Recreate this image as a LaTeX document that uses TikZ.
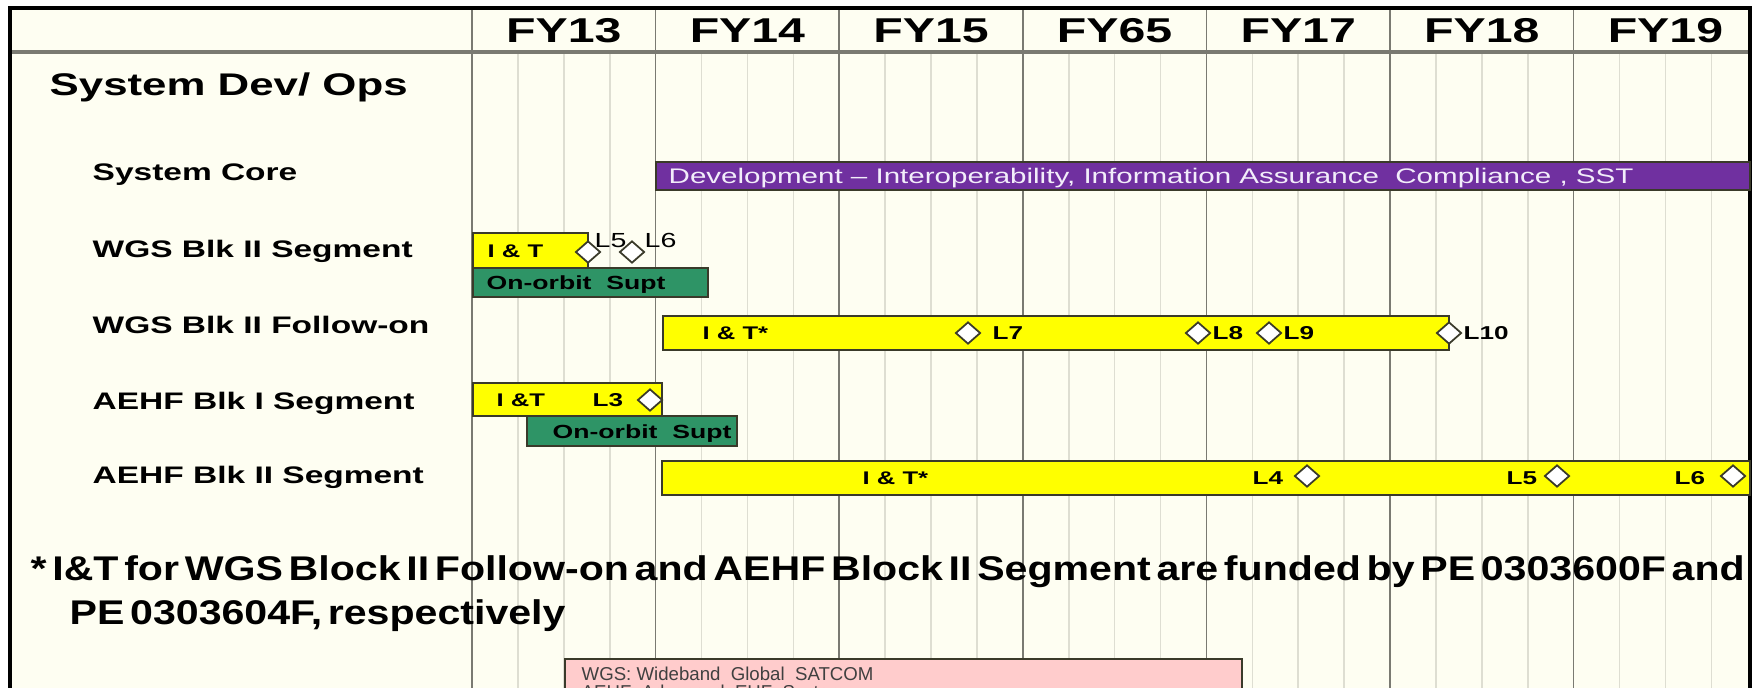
\documentclass[tikz,border=0pt]{standalone}
\usepackage{fontspec}
\setmainfont[FakeStretch=1.4]{Liberation Sans}
\newfontfamily\notefont[FakeStretch=1.2,WordSpace=0.5]{Liberation Sans}
\newfontfamily\legendfont{Liberation Sans}
\usepackage{xcolor}
\usetikzlibrary{shapes.geometric}
\definecolor{PaperCream}{HTML}{FEFEF2}
\definecolor{BarYellow}{HTML}{FFFF00}
\definecolor{BarGreen}{HTML}{2E9466}
\definecolor{BarPurple}{HTML}{7030A0}
\definecolor{PurpleText}{HTML}{F2EDFA}
\definecolor{LegendPink}{HTML}{FFCCCC}
\definecolor{GridDark}{HTML}{7A7A72}
\definecolor{GridLight}{HTML}{DEDED2}
\definecolor{EdgeDark}{HTML}{3A3A2A}
\definecolor{LegendInk}{HTML}{404040}
\tikzset{
  yearlab/.style={font=\fontsize{9.8}{11}\selectfont\bfseries},
  grouplab/.style={font=\fontsize{8.9}{11}\selectfont\bfseries, anchor=base west},
  rowlab/.style={font=\fontsize{6.8}{8}\selectfont\bfseries, anchor=base west},
  bartext/.style={font=\fontsize{5.2}{6}\selectfont\bfseries, anchor=base west},
  orbittext/.style={font=\fontsize{5.4}{6}\selectfont\bfseries, anchor=base west},
  mslab/.style={font=\fontsize{5.3}{6}\selectfont\bfseries, anchor=base west},
  mslabthin/.style={font=\fontsize{5.8}{6}\selectfont, anchor=base west},
  milestone/.style={diamond, draw=EdgeDark, fill=white, line width=0.5pt, minimum width=0.25cm, minimum height=0.22cm},
  ybar/.style={draw=EdgeDark, fill=BarYellow, line width=0.6pt},
  gbar/.style={draw=EdgeDark, fill=BarGreen, line width=0.6pt},
  pbar/.style={draw=EdgeDark, fill=BarPurple, line width=0.6pt},
  yearline/.style={draw=GridDark, line width=0.45pt},
  qline/.style={draw=GridLight, line width=0.45pt}
}

\begin{document}
\begin{tikzpicture}[
    x=0.01cm, y=-0.01cm,
    every node/.style={
        inner sep=0pt
    }
]
\useasboundingbox (0,0) rectangle (1752,687);
\clip (0,0) rectangle (1752,687);
\fill[white] (0,0) rectangle (1752,687);
\fill[PaperCream] (10,8) rectangle (1750,700);

% quarter and year grid
\foreach \k in {0,...,6}
  \foreach \q in {1,2,3}
    \draw[qline] ({472+183.6*\k+45.9*\q},52) -- ({472+183.6*\k+45.9*\q},700);
\foreach \k in {0,...,6}
  \draw[yearline] ({472+183.6*\k},8) -- ({472+183.6*\k},700);
\draw[GridDark, line width=0.9pt] (10,52) -- (1750,52);
\draw[line width=0.9pt] (10,700) -- (10,8) -- (1750,8) -- (1750,700);

\foreach \yr [count=\k from 0] in {13,14,15,65,17,18,19}
  \node[yearlab] (fy\yr) at ({472+183.6*\k+91.8},31) {FY\yr};

\node[grouplab] (sysops) at (49,95) {System Dev/ Ops};
\node[rowlab] (core) at (92,180) {System Core};
\node[rowlab] (wgsseg) at (92,257) {WGS Blk II Segment};
\node[rowlab] (wgsfol) at (92,333) {WGS Blk II Follow-on};
\node[rowlab] (aehfone) at (92,409) {AEHF Blk I Segment};
\node[rowlab] (aehftwo) at (92,483) {AEHF Blk II Segment};

% System Core
\path[pbar] (656,162) rectangle (1750,190);
\node[font=\fontsize{6}{7}\selectfont, text=PurpleText, anchor=base west] (coretxt) at (668,183.5)
    {Development -- Interoperability, Information Assurance\ \ Compliance , SST};

% WGS Blk II Segment
\path[ybar] (473,233) rectangle (588,268);
\path[gbar] (473,268) rectangle (708,297);
\node[bartext] (wgsit) at (487,257.5) {I \& T};
\node[orbittext] (wgsorb) at (486,289.5) {On-orbit\ \ Supt};
\node[milestone] (wgsl5) at (588,252) {};
\node[milestone] (wgsl6) at (632,252) {};
\node[mslabthin] (wgsl5t) at (594,247) {L5};
\node[mslabthin] (wgsl6t) at (644,247) {L6};

% WGS Blk II Follow-on
\path[ybar] (663,316) rectangle (1449,350);
\node[bartext] (folit) at (702,339.5) {I \& T*};
\node[milestone] (foll7) at (968,333) {};
\node[milestone] (foll8) at (1198,333) {};
\node[milestone] (foll9) at (1269,333) {};
\node[milestone] (foll10) at (1449,333) {};
\node[mslab] (foll7t) at (992,339.5) {L7};
\node[mslab] (foll8t) at (1212,339.5) {L8};
\node[mslab] (foll9t) at (1283,339.5) {L9};
\node[mslab] (foll10t) at (1463,339.5) {L10};

% AEHF Blk I Segment
\path[ybar] (473,383) rectangle (662,416);
\path[gbar] (527,416) rectangle (737,446);
\node[bartext] (oneit) at (496,406.5) {I \&T};
\node[mslab] (onel3t) at (592,406.5) {L3};
\node[milestone] (onel3) at (650,400) {};
\node[orbittext] (oneorb) at (552,438) {On-orbit\ \ Supt};

% AEHF Blk II Segment
\path[ybar] (662,461) rectangle (1750,495);
\node[bartext] (twoit) at (862,484.5) {I \& T*};
\node[mslab] (twol4t) at (1252,484.5) {L4};
\node[mslab] (twol5t) at (1506,484.5) {L5};
\node[mslab] (twol6t) at (1674,484.5) {L6};
\node[milestone] (twol4) at (1307,476) {};
\node[milestone] (twol5) at (1557,476) {};
\node[milestone] (twol6) at (1733,476) {};

% footnote
\node[font=\notefont\fontsize{9.74}{12.6}\selectfont\bfseries, align=left, anchor=north west] (note) at (30,555)
    {* I\&T for WGS Block II Follow-on and AEHF Block II Segment are funded by PE 0303600F and\\
     \hspace*{0.39cm}PE 0303604F, respectively};

% acronyms
\path[draw=EdgeDark, fill=LegendPink, line width=0.6pt] (565,659) rectangle (1242,740);
\node[font=\legendfont\fontsize{5.3}{5.15}\selectfont, text=LegendInk, align=left, anchor=north west] (acro) at (581,666)
    {WGS:\ Wideband\ \ Global\ \ SATCOM\\AEHF:\ Advanced\ \ EHF\ \ System};
\end{tikzpicture}
\end{document}
